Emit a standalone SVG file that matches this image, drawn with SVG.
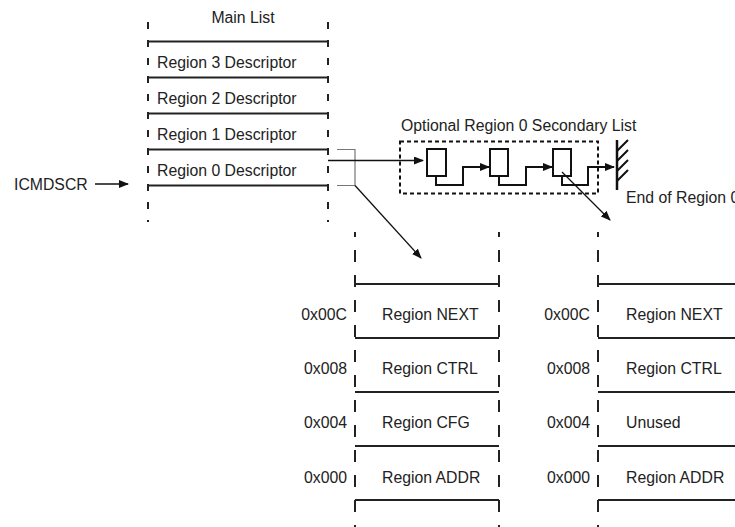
<svg xmlns="http://www.w3.org/2000/svg" width="735" height="527" viewBox="0 0 735 527">
<style>
text{font-family:"Liberation Sans",Arial,sans-serif;font-size:15.8px;fill:#222}
.h{stroke:#222;stroke-width:2;fill:none}
.vm{stroke:#222;stroke-width:2;stroke-dasharray:7 11;fill:none}
.vt{stroke:#222;stroke-width:2;stroke-dasharray:12 13;stroke-dashoffset:7;fill:none}
.c{stroke:#111;stroke-width:1.3;fill:none}
.c2{stroke:#111;stroke-width:2;fill:none}
.g{stroke:#777;stroke-width:1.2;fill:none}
</style>
<defs>
<marker id="ah" markerWidth="10" markerHeight="8" refX="9" refY="4" orient="auto" markerUnits="userSpaceOnUse">
<path d="M0,0 L10,4 L0,8 Z" fill="#111"/>
</marker>
</defs>
<g id="main-list">
<text x="243" y="23" text-anchor="middle">Main List</text>
<line class="vm" x1="148" y1="22" x2="148" y2="222"/>
<line class="vm" x1="328" y1="22" x2="328" y2="222"/>
<line class="h" x1="148" y1="41.5" x2="328" y2="41.5"/>
<line class="h" x1="148" y1="77.5" x2="328" y2="77.5"/>
<line class="h" x1="148" y1="113.5" x2="328" y2="113.5"/>
<line class="h" x1="148" y1="149.5" x2="328" y2="149.5"/>
<line class="h" x1="148" y1="185.5" x2="328" y2="185.5"/>
<text x="157" y="68">Region 3 Descriptor</text>
<text x="157" y="104">Region 2 Descriptor</text>
<text x="157" y="140">Region 1 Descriptor</text>
<text x="157" y="176">Region 0 Descriptor</text>
</g>
<g id="icmdscr">
<text x="14" y="190">ICMDSCR</text>
</g>
<g id="secondary-list">
<text x="401" y="131">Optional Region 0 Secondary List</text>
<rect x="400" y="141.5" width="198" height="52" fill="none" stroke="#111" stroke-width="2" stroke-dasharray="4 3"/>
<rect x="427" y="149" width="19" height="27" class="c2" fill="#fff"/>
<rect x="490" y="149" width="18" height="27" class="c2" fill="#fff"/>
<rect x="553" y="149" width="18" height="27" class="c2" fill="#fff"/>
</g>
<g id="end-marker">
<line x1="617" y1="140" x2="617" y2="190" stroke="#111" stroke-width="2.5"/>
<path d="M617,151 L628,140 M617,161 L628,150 M617,171 L628,160 M617,181 L628,170" class="c2"/>
<text x="626" y="203">End of Region 0</text>
</g>
<g id="table-1">
<line class="vt" x1="355" y1="232" x2="355" y2="527"/>
<line class="vt" x1="499" y1="232" x2="499" y2="527"/>
<line class="h" x1="355" y1="284" x2="499" y2="284"/>
<line class="h" x1="355" y1="338" x2="499" y2="338"/>
<line class="h" x1="355" y1="392" x2="499" y2="392"/>
<line class="h" x1="355" y1="446" x2="499" y2="446"/>
<line class="h" x1="355" y1="500" x2="499" y2="500"/>
<text x="347" y="320" text-anchor="end">0x00C</text>
<text x="347" y="374" text-anchor="end">0x008</text>
<text x="347" y="428" text-anchor="end">0x004</text>
<text x="347" y="483" text-anchor="end">0x000</text>
<text x="382" y="320">Region NEXT</text>
<text x="382" y="374">Region CTRL</text>
<text x="382" y="428">Region CFG</text>
<text x="382" y="483">Region ADDR</text>
</g>
<g id="table-2">
<line class="vt" x1="598" y1="232" x2="598" y2="527"/>
<line class="h" x1="598" y1="284" x2="742" y2="284"/>
<line class="h" x1="598" y1="338" x2="742" y2="338"/>
<line class="h" x1="598" y1="392" x2="742" y2="392"/>
<line class="h" x1="598" y1="446" x2="742" y2="446"/>
<line class="h" x1="598" y1="500" x2="742" y2="500"/>
<text x="590" y="320" text-anchor="end">0x00C</text>
<text x="590" y="374" text-anchor="end">0x008</text>
<text x="590" y="428" text-anchor="end">0x004</text>
<text x="590" y="483" text-anchor="end">0x000</text>
<text x="626" y="320">Region NEXT</text>
<text x="626" y="374">Region CTRL</text>
<text x="626" y="428">Unused</text>
<text x="626" y="483">Region ADDR</text>
</g>
<g id="connectors">
<line class="c" x1="95" y1="184" x2="128" y2="184" marker-end="url(#ah)"/>
<path class="g" d="M337,149.5 H355 V185.5 H337"/>
<line class="c" x1="328" y1="160.5" x2="423" y2="160.5" marker-end="url(#ah)"/>
<line class="c" x1="355" y1="185.5" x2="421" y2="258" marker-end="url(#ah)"/>
<path class="c2" d="M436,176 V185 H463 V167 H489" marker-end="url(#ah)"/>
<path class="c2" d="M499,176 V185 H526 V167 H552" marker-end="url(#ah)"/>
<path class="c2" d="M562,176 V185 H588 V167 H614" marker-end="url(#ah)"/>
<line class="c" x1="562" y1="172" x2="610" y2="220" marker-end="url(#ah)"/>
</g>
</svg>
